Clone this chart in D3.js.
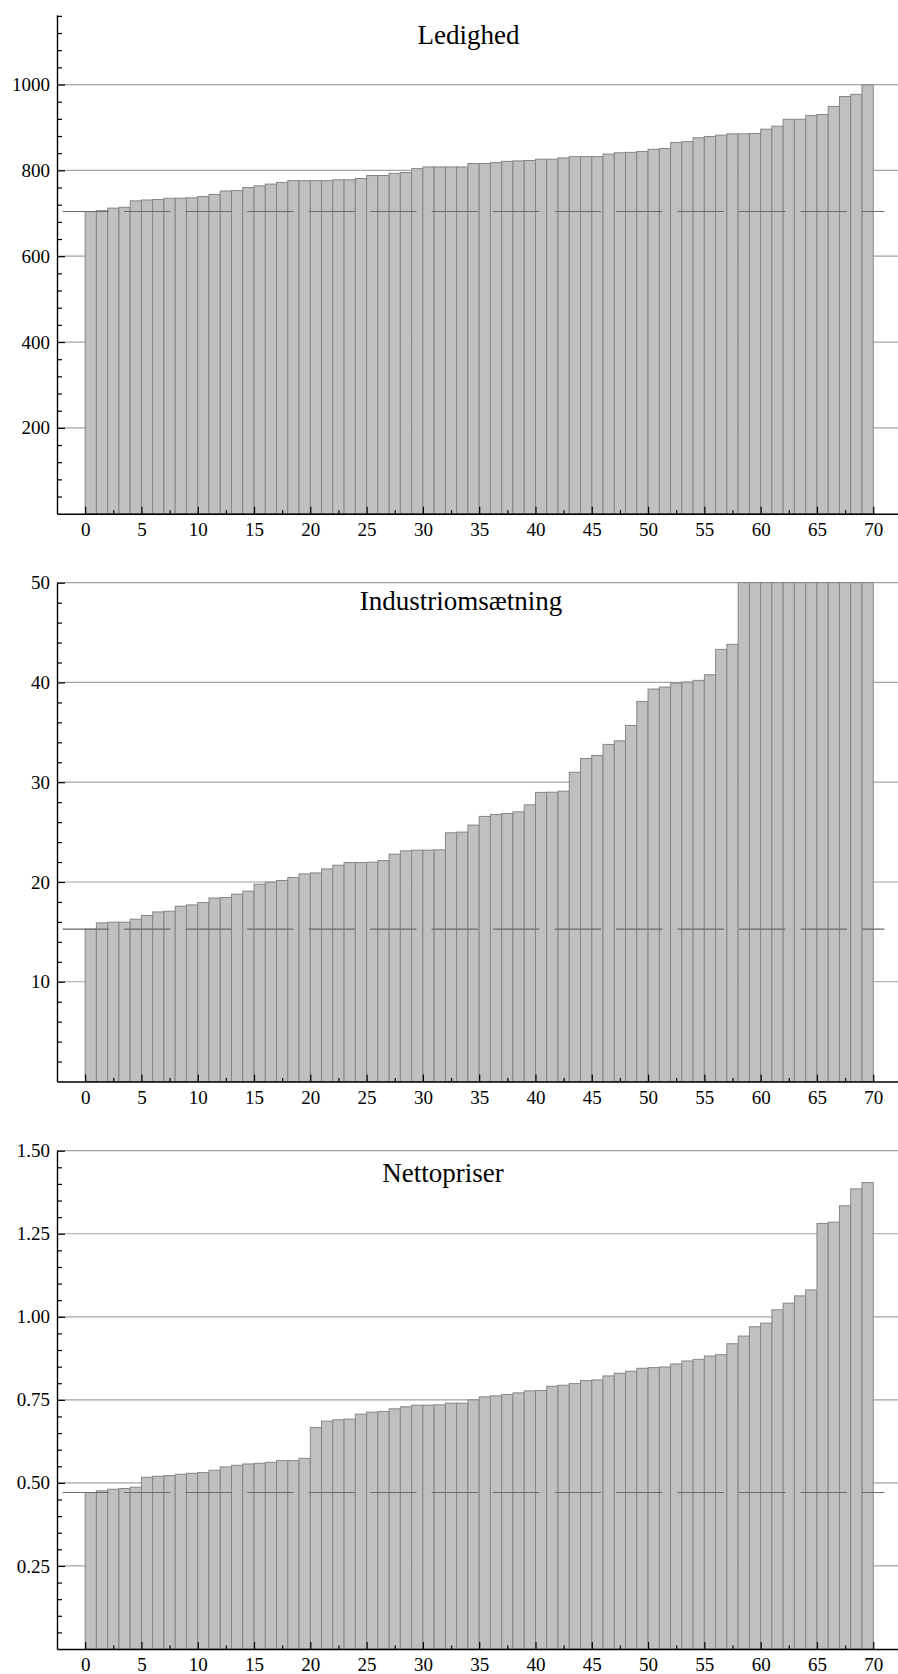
<!DOCTYPE html>
<html>
<head>
<meta charset="UTF-8">
<title>Ledighed, Industriomsætning, Nettopriser</title>
<script src="https://cdn.jsdelivr.net/npm/d3@7"></script>
<style>
  body { margin: 0; background: #fff; }
  svg text { font-family: "Liberation Serif", "Times New Roman", serif !important; }
</style>
</head>
<body>
<script>
// values (bar index 0..69)
const ledighed = [704, 706, 712, 714, 729, 731, 732, 735, 735, 736, 739, 744, 752, 753, 760, 764, 768, 772, 776, 776,
  776, 776, 778, 778, 781, 788, 788, 793, 795, 804, 808, 808, 808, 808, 816, 816, 818, 821, 822, 823,
  826, 826, 829, 832, 832, 832, 838, 841, 842, 844, 849, 851, 865, 867, 876, 879, 882, 885, 885, 886,
  896, 903, 919, 919, 928, 930, 949, 972, 977, 999]

const industri = [15.27, 15.9, 15.97, 15.97, 16.27, 16.64, 17.0, 17.07, 17.57, 17.7, 17.94, 18.4, 18.44, 18.78, 19.08,
  19.78, 19.98, 20.15, 20.45, 20.81, 20.91, 21.31, 21.68, 21.95, 21.95, 21.98, 22.15, 22.79, 23.12, 23.19,
  23.19, 23.22, 24.93, 25.0, 25.7, 26.57, 26.77, 26.87, 27.03, 27.73, 28.98, 29.0, 29.1, 31.0, 32.38,
  32.68, 33.79, 34.15, 35.69, 38.1, 39.34, 39.54, 39.91, 40.04, 40.21, 40.77, 43.32, 43.82,
  50, 50, 50, 50, 50, 50, 50, 50, 50, 50, 50, 50]

const netto = [0.471, 0.476, 0.481, 0.483, 0.487, 0.517, 0.520, 0.522, 0.526, 0.529, 0.531, 0.538, 0.548, 0.553,
  0.557, 0.559, 0.562, 0.567, 0.567, 0.574, 0.667, 0.686, 0.690, 0.692, 0.707, 0.713, 0.715, 0.723, 0.729,
  0.734, 0.734, 0.735, 0.740, 0.740, 0.750, 0.759, 0.762, 0.766, 0.771, 0.777, 0.778, 0.791, 0.794, 0.799,
  0.808, 0.810, 0.822, 0.830, 0.836, 0.845, 0.847, 0.849, 0.858, 0.867, 0.872, 0.882, 0.886, 0.919, 0.942,
  0.970, 0.981, 1.021, 1.041, 1.063, 1.081, 1.281, 1.285, 1.334, 1.385, 1.404]

const titles = ["Ledighed", "Industriomsætning", "Nettopriser"]
const xTicks = [0, 5, 10, 15, 20, 25, 30, 35, 40, 45, 50, 55, 60, 65, 70]
const ledighedTicks = [200, 400, 600, 800, 1000]
const industriTicks = [10, 20, 30, 40, 50]
const nettoTicks = [0.25, 0.5, 0.75, 1.0, 1.25, 1.5]

const W = 898, H = 1674
const axisX = 57
const serif = "'Liberation Serif', 'Times New Roman', serif"

// layout of each panel
const panels = [
  { title: titles[0], values: ledighed, ticks: ledighedTicks, yMax: 1162, minorStep: 40,
    top: 15, bottom: 513.7, titleX: 468.5, titleY: 44, fmt: d3.format("d") },
  { title: titles[1], values: industri, ticks: industriTicks, yMax: 50, minorStep: 2,
    top: 582.7, bottom: 1081.5, titleX: 461, titleY: 609.5, fmt: d3.format("d") },
  { title: titles[2], values: netto, ticks: nettoTicks, yMax: 1.5, minorStep: 0.05,
    top: 1150.7, bottom: 1649, titleX: 443, titleY: 1182, fmt: d3.format(".2f") }
]

const svg = d3.select("body")
  .append("svg")
  .attr("width", W)
  .attr("height", H)

const x = d3.scaleLinear()
  .domain([-2.5, 72.2])
  .range([axisX, W])

panels.forEach(p => {
  const y = d3.scaleLinear()
    .domain([0, p.yMax])
    .range([p.bottom, p.top])
    .clamp(true)

  const g = svg.append("g")

  // gridlines behind the bars
  g.append("g")
    .selectAll("line")
    .data(p.ticks)
    .join("line")
    .attr("x1", axisX)
    .attr("x2", W)
    .attr("y1", d => y(d))
    .attr("y2", d => y(d))
    .attr("stroke", "#a3a3a3")
    .attr("stroke-width", 1.2)

  // bars
  g.append("g")
    .selectAll("rect")
    .data(p.values)
    .join("rect")
    .attr("x", (d, i) => x(i))
    .attr("width", (d, i) => x(i + 1) - x(i))
    .attr("y", d => y(d))
    .attr("height", d => p.bottom - y(d))
    .attr("fill", "#c0c0c0")
    .attr("stroke", "#868686")
    .attr("stroke-width", 1)

  // dashed reference line at the lowest bar
  g.append("line")
    .attr("x1", x(-2))
    .attr("x2", x(71))
    .attr("y1", y(p.values[0]))
    .attr("y2", y(p.values[0]))
    .attr("stroke", "#6a6a6a")
    .attr("stroke-width", 1.1)
    .attr("stroke-dasharray", "46.3 15.2")

  // title
  g.append("text")
    .attr("x", p.titleX)
    .attr("y", p.titleY)
    .attr("text-anchor", "middle")
    .style("font-size", "27px")
    .style("font-family", serif)
    .attr("fill", "#000")
    .text(p.title)

  // y axis, ticks pointing inward
  const minorY = d3.range(p.minorStep, p.yMax, p.minorStep)
    .filter(v => !p.ticks.some(t => Math.abs(t - v) < p.minorStep / 10))
  g.append("g")
    .attr("transform", "translate(" + axisX + ",0)")
    .call(d3.axisLeft(y).tickValues(minorY).tickSize(-5).tickFormat(""))
    .call(a => a.select(".domain").remove())
  const yAxis = g.append("g")
    .attr("transform", "translate(" + axisX + ",0)")
    .call(d3.axisLeft(y).tickValues(p.ticks).tickSizeInner(-8).tickSizeOuter(0)
      .tickPadding(7).tickFormat(p.fmt))
  yAxis.attr("font-family", serif)
  yAxis.selectAll("text")
    .style("font-size", "19px")
    .style("font-family", serif)
    .attr("fill", "#000")

  // x axis
  g.append("g")
    .attr("transform", "translate(0," + p.bottom + ")")
    .call(d3.axisBottom(x).tickValues(d3.range(2.5, 70, 5)).tickSize(-3.5).tickFormat(""))
    .call(a => a.select(".domain").remove())
  const xAxis = g.append("g")
    .attr("transform", "translate(0," + p.bottom + ")")
    .call(d3.axisBottom(x).tickValues(xTicks).tickSizeInner(-7).tickSizeOuter(0).tickPadding(9))
  xAxis.attr("font-family", serif)
  xAxis.selectAll("text")
    .style("font-size", "19px")
    .style("font-family", serif)
    .attr("fill", "#000")

  g.selectAll(".domain").attr("stroke", "#000").attr("stroke-width", 1.4)
  g.selectAll(".tick line").attr("stroke", "#000").attr("stroke-width", 1.2)
})
</script>
</body>
</html>
